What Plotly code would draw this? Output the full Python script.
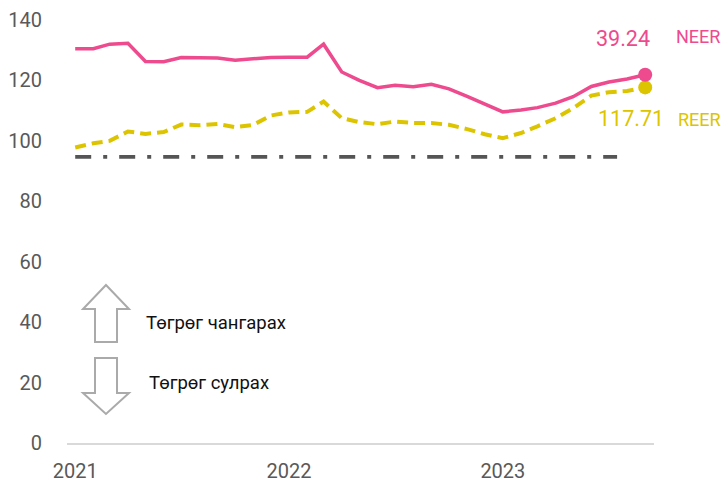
import plotly.graph_objects as go
import pandas as pd

# monthly, Jan 2021 - Sep 2023
dates = pd.date_range("2021-01-01", "2023-09-01", freq="MS")

neer = [130.5, 130.5, 132.0, 132.3, 126.3, 126.2, 127.6, 127.6, 127.4, 126.7, 127.2, 127.6,
        127.7, 127.7, 132.0, 122.8, 120.0, 117.6, 118.4, 117.9, 118.7, 117.2, 114.7, 112.2,
        109.6, 110.2, 111.0, 112.5, 114.6, 118.0, 119.5, 120.5, 121.9]
reer = [97.8, 99.2, 100.0, 103.1, 102.3, 102.9, 105.4, 105.2, 105.6, 104.5, 105.3, 108.4,
        109.4, 109.6, 113.0, 107.5, 106.2, 105.5, 106.4, 105.9, 105.9, 105.3, 103.9, 102.2,
        100.9, 102.6, 104.8, 107.5, 110.8, 115.0, 116.1, 116.5, 117.7]

base_x = ["2021-01-01", "2023-07-15"]
base_y = [94.7, 94.7]

neer_label = "39.24"
reer_label = "117.71"

PINK = "#ee4a8e"
YELLOW = "#dcc500"
GRAY = "#595959"
FONT = "Roboto"

fig = go.Figure()

fig.add_trace(go.Scatter(
    x=base_x, y=base_y, mode="lines",
    line=dict(color="#555555", width=3.7, dash="16px,12px,4px,12px"),
    hoverinfo="skip"
))
fig.add_trace(go.Scatter(
    x=dates, y=reer, mode="lines", name="REER",
    line=dict(color=YELLOW, width=4, dash="11px,6px")
))
fig.add_trace(go.Scatter(
    x=dates, y=neer, mode="lines", name="NEER",
    line=dict(color=PINK, width=3.5)
))
fig.add_trace(go.Scatter(
    x=[dates[-1]], y=[reer[-1]], mode="markers",
    marker=dict(color=YELLOW, size=14)
))
fig.add_trace(go.Scatter(
    x=[dates[-1]], y=[neer[-1]], mode="markers",
    marker=dict(color=PINK, size=14)
))

# value labels at the end of the lines
fig.add_annotation(x=dates[-1], y=neer[-1], text=neer_label, showarrow=False,
                   xanchor="right", yanchor="middle", xshift=7, yshift=36,
                   font=dict(family=FONT, size=21.5, color=PINK))
fig.add_annotation(x=dates[-1], y=neer[-1], text="NEER", showarrow=False,
                   xanchor="left", yanchor="middle", xshift=29, yshift=38,
                   font=dict(family=FONT, size=18, color=PINK))
fig.add_annotation(x=dates[-1], y=reer[-1], text=reer_label, showarrow=False,
                   xanchor="right", yanchor="middle", xshift=21, yshift=-31,
                   font=dict(family=FONT, size=21.5, color=YELLOW))
fig.add_annotation(x=dates[-1], y=reer[-1], text="REER", showarrow=False,
                   xanchor="left", yanchor="middle", xshift=31, yshift=-32,
                   font=dict(family=FONT, size=18, color=YELLOW))

# hollow arrows
up_arrow = "M 0.0664 0.3735 L 0.1056 0.3168 L 0.0852 0.3168 L 0.0852 0.2388 L 0.0477 0.2388 L 0.0477 0.3168 L 0.0273 0.3168 Z"
down_arrow = "M 0.0477 0.2009 L 0.0852 0.2009 L 0.0852 0.1182 L 0.1056 0.1182 L 0.0664 0.0686 L 0.0273 0.1182 L 0.0477 0.1182 Z"
for p in (up_arrow, down_arrow):
    fig.add_shape(type="path", path=p, xref="paper", yref="paper",
                  line=dict(color="#aaaaaa", width=2), fillcolor="rgba(0,0,0,0)")

fig.add_annotation(x=0.132, y=0.2837, xref="paper", yref="paper", text="Төгрөг чангарах",
                   showarrow=False, xanchor="left", yanchor="middle",
                   font=dict(family=FONT, size=18.5, color="#111111"))
fig.add_annotation(x=0.136, y=0.1418, xref="paper", yref="paper", text="Төгрөг сулрах",
                   showarrow=False, xanchor="left", yanchor="middle",
                   font=dict(family=FONT, size=18.5, color="#111111"))

fig.update_layout(
    width=726, height=485,
    margin=dict(l=67, r=72, t=20, b=42),
    plot_bgcolor="white", paper_bgcolor="white",
    showlegend=False,
    font=dict(family=FONT, size=20, color=GRAY),
    xaxis=dict(
        type="date",
        range=["2020-12-18", "2023-09-16"],
        tickvals=["2021-01-01", "2022-01-01", "2023-01-01"],
        ticktext=["2021", "2022", "2023"],
        showgrid=False, zeroline=False, automargin=False,
        showline=True, linecolor="#d9d9d9", linewidth=1.5,
        ticks="", ticklabelstandoff=9,
        tickfont=dict(size=20, color=GRAY),
    ),
    yaxis=dict(
        range=[0, 140],
        tickvals=[0, 20, 40, 60, 80, 100, 120, 140],
        showgrid=False, zeroline=False, showline=False, automargin=False,
        ticks="", ticklabelstandoff=24,
        tickfont=dict(size=20, color=GRAY),
    ),
)

# drop the default page margin so the figure fills the window exactly
fig.write_html("out.html", config={"displayModeBar": False},
               post_script="document.body.style.margin='0';")
